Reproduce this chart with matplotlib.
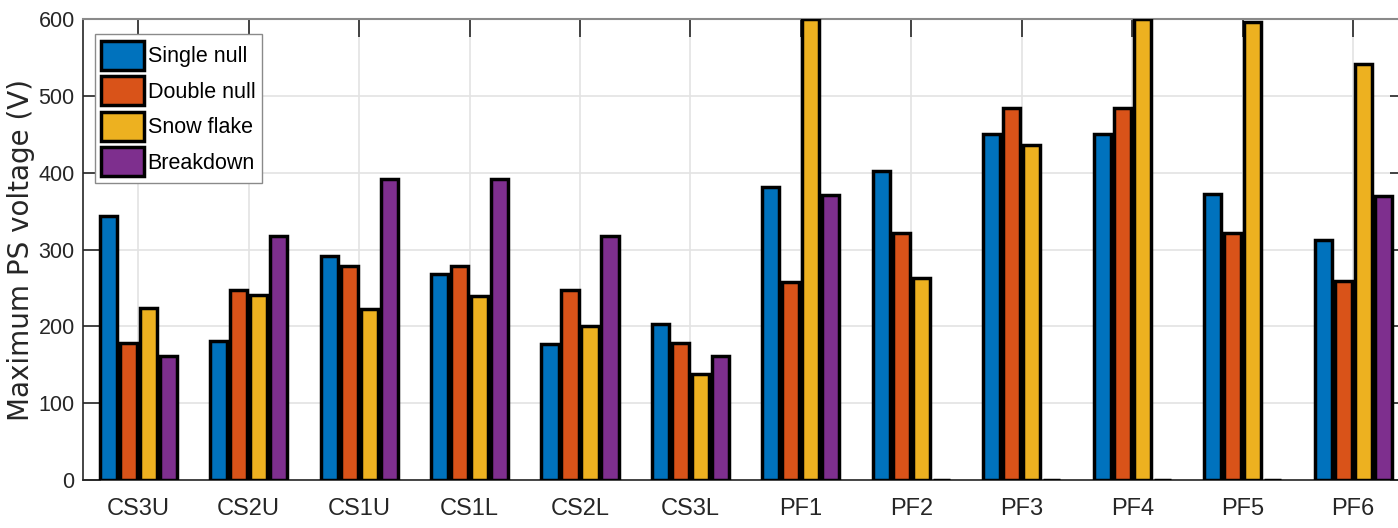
import numpy as np
import matplotlib
matplotlib.use("Agg")
import matplotlib.pyplot as plt

categories = ["CS3U", "CS2U", "CS1U", "CS1L", "CS2L", "CS3L",
              "PF1", "PF2", "PF3", "PF4", "PF5", "PF6"]
single_null = [343, 181, 292, 268, 177, 203, 382, 402, 450, 451, 372, 312]
double_null = [178, 247, 278, 278, 247, 178, 258, 322, 484, 484, 322, 259]
snow_flake = [224, 241, 222, 239, 200, 138, 600, 263, 436, 600, 596, 541]
breakdown = [162, 318, 392, 392, 318, 162, 371, 0, 0, 0, 0, 370]

series = [("Single null", single_null, "#0072BD"),
          ("Double null", double_null, "#D95319"),
          ("Snow flake", snow_flake, "#EDB120"),
          ("Breakdown", breakdown, "#7E2F8E")]

font = ["Liberation Sans", "DejaVu Sans"]

fig = plt.figure(figsize=(13.98, 5.28), dpi=100)
ax = fig.add_axes([0.0594, 0.0909, 0.948, 0.873])

x = np.arange(1, len(categories) + 1)
pitch = 0.181
width = 0.155
for i, (name, vals, color) in enumerate(series):
    ax.bar(x + (i - 1.5) * pitch, vals, width, color=color,
           edgecolor="black", linewidth=2.5, label=name, zorder=3)

ax.set_xlim(0.5, 12.5)
ax.set_ylim(0, 600)
ax.set_xticks(x)
ax.set_xticklabels(categories, fontsize=17, family=font, color="#262626")
ax.set_yticks(np.arange(0, 601, 100))
ax.set_yticklabels([str(v) for v in range(0, 601, 100)], fontsize=15.5,
                   family=font, color="#262626")
ax.tick_params(direction="in", length=13, width=1.2, top=True, right=True,
               color="#262626", pad=6)
ax.tick_params(axis="x", pad=13)
ax.grid(True, color="#e3e3e3", linewidth=1.2, zorder=0)
ax.set_axisbelow(True)
for side in ["left", "bottom"]:
    ax.spines[side].set_color("#262626")
    ax.spines[side].set_linewidth(1.2)
for side in ["top", "right"]:
    ax.spines[side].set_color("#8a8a8a")
    ax.spines[side].set_linewidth(1.5)

ax.set_ylabel("Maximum PS voltage (V)", fontsize=20, family="DejaVu Sans",
              color="#262626")
ax.yaxis.set_label_coords(-0.036, 0.5)

leg = ax.legend(loc="upper left", bbox_to_anchor=(0.009, 0.967),
                borderaxespad=0, fancybox=False,
                prop={"family": font, "size": 15.5},
                handlelength=2.0, handleheight=1.7, labelspacing=0.3,
                handletextpad=0.15, borderpad=0.3, framealpha=1)
leg.get_frame().set_edgecolor("#8a8a8a")
leg.get_frame().set_linewidth(1.0)

fig.savefig("out.png", dpi=100)
